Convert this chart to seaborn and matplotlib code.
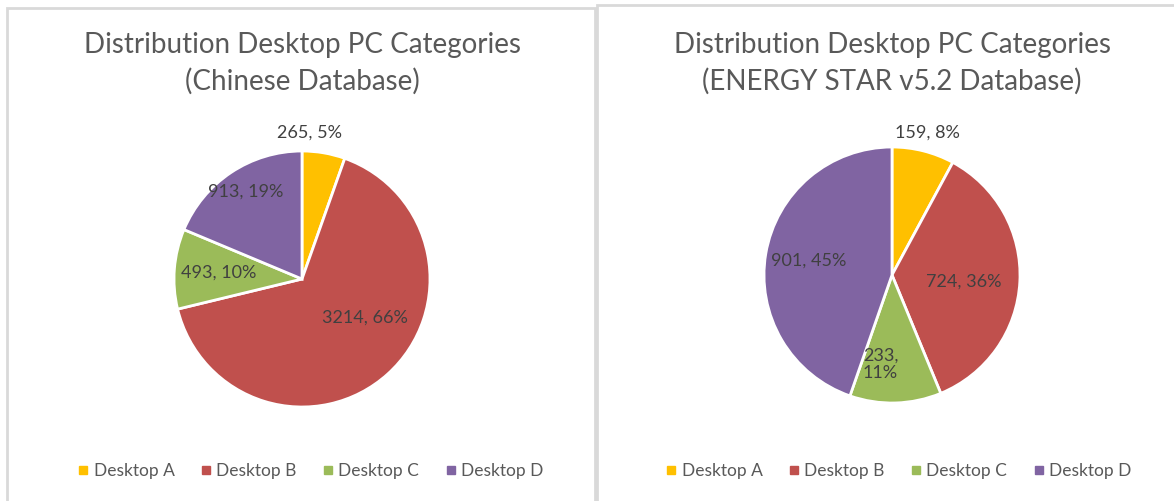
import matplotlib
matplotlib.use("Agg")
import matplotlib.pyplot as plt
import seaborn as sns
from matplotlib.lines import Line2D
from matplotlib.patches import Rectangle

sns.set_theme(style="white")
plt.rcParams['font.family'] = ['Lato', 'DejaVu Sans']

# data
categories = ['Desktop A', 'Desktop B', 'Desktop C', 'Desktop D']
chinese_counts = [265, 3214, 493, 913]
chinese_pct = ['5%', '66%', '10%', '19%']
energystar_counts = [159, 724, 233, 901]
energystar_pct = ['8%', '36%', '11%', '45%']
titles = ['Distribution Desktop PC Categories\n(Chinese Database)',
          'Distribution Desktop PC Categories\n(ENERGY STAR v5.2 Database)']

colors = sns.color_palette(['#FFC000', '#C0504D', '#9BBB59', '#8064A2'])
text_col = '#595959'

# label placement, in units of pie radius
chinese_lbl_pos = [(0.06, 1.14), (0.49, -0.30), (-0.65, 0.05), (-0.44, 0.68)]
energystar_lbl_pos = [(0.28, 1.11), (0.56, -0.05), (-0.09, -0.70), (-0.65, 0.11)]

W, H = 1174, 501
fig = plt.figure(figsize=(W / 100, H / 100), dpi=100)

# panel frames
fig.patches.append(Rectangle((7 / W, -0.05), 588 / W, 1.05 - 8 / H, transform=fig.transFigure,
                             fill=False, edgecolor='#d9d9d9', lw=2, zorder=0))
fig.patches.append(Rectangle((597 / W, -0.05), 1.0, 1.05 - 5 / H, transform=fig.transFigure,
                             fill=False, edgecolor='#d9d9d9', lw=2, zorder=0))

panels = [
    (chinese_counts, chinese_pct, chinese_lbl_pos, (302, 279), 309),
    (energystar_counts, energystar_pct, energystar_lbl_pos, (892, 275), 897),
]
R = 128
for i, (counts, pct, lbl_pos, (cx, cy), leg_x) in enumerate(panels):
    half = 1.25 * R
    ax = fig.add_axes([(cx - half) / W, (H - cy - half) / H, 2 * half / W, 2 * half / H])
    ax.patch.set_alpha(0)
    ax.pie(counts, colors=colors, startangle=90, counterclock=False,
           wedgeprops=dict(edgecolor='white', linewidth=2))
    ax.set_xlim(-1.25, 1.25)
    ax.set_ylim(-1.25, 1.25)
    ax.set_aspect('equal')
    for j, (n, p) in enumerate(zip(counts, pct)):
        lab = f'{n}, {p}'
        if i == 1 and j == 2:
            lab = f'{n},\n{p}'
        ax.text(lbl_pos[j][0], lbl_pos[j][1], lab, ha='center', va='center',
                fontsize=13, color='#404040', linespacing=1.1)

    fig.text(cx / W, 1 - 63.5 / H, titles[i], ha='center', va='center',
             fontsize=20, color=text_col, linespacing=1.45)

    handles = [Line2D([], [], marker='s', linestyle='', markersize=6,
                      markerfacecolor=c, markeredgecolor=c) for c in colors]
    fig.legend(handles, categories, loc='center', bbox_to_anchor=(leg_x / W, 1 - 471 / H),
               ncol=4, frameon=False, fontsize=12.5, labelcolor=text_col,
               handletextpad=0.1, columnspacing=1.3, handlelength=1.0)

fig.savefig('out.png', dpi=100)
